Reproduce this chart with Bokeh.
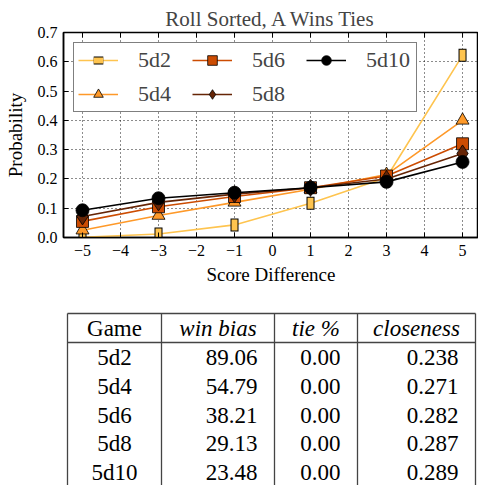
import math
from bokeh.plotting import figure
from bokeh.models import (Range1d, FixedTicker, Legend, LegendItem,
                          ColumnDataSource, PrintfTickFormatter)
from bokeh.layouts import column
from bokeh.core.properties import value
from bokeh.embed import file_html
from bokeh.resources import INLINE

# ---------------- data ----------------
score_diff = [-5, -3, -1, 1, 3, 5]
p_5d2 = [0.001, 0.012, 0.043, 0.117, 0.205, 0.622]
p_5d4 = [0.025, 0.075, 0.120, 0.165, 0.215, 0.400]
p_5d6 = [0.055, 0.105, 0.140, 0.170, 0.210, 0.320]
p_5d8 = [0.072, 0.120, 0.148, 0.170, 0.200, 0.287]
p_5d10 = [0.093, 0.134, 0.153, 0.170, 0.190, 0.258]

x_ticks = [-5, -4, -3, -2, -1, 0, 1, 2, 3, 4, 5]
y_ticks = [0.0, 0.1, 0.2, 0.3, 0.4, 0.5, 0.6, 0.7]

games = ["5d2", "5d4", "5d6", "5d8", "5d10"]
win_bias = ["89.06", "54.79", "38.21", "29.13", "23.48"]
tie_pct = ["0.00", "0.00", "0.00", "0.00", "0.00"]
closeness = ["0.238", "0.271", "0.282", "0.287", "0.289"]
headers = ["Game", "win bias", "tie %", "closeness"]

colors = ["#fec44f", "#fe9929", "#cc4c02", "#662506", "#000000"]
SERIF = "Liberation Serif"

# ---------------- chart ----------------
p = figure(width=478, height=300, x_range=Range1d(-5.5, 5.42),
           y_range=Range1d(0, 0.7), output_backend="svg",
           toolbar_location=None, min_border_left=63, min_border_right=0,
           min_border_top=32, min_border_bottom=63)
p.title.text = "Roll Sorted, A Wins Ties"
p.title.align = "center"
p.title.text_font = SERIF
p.title.text_font_size = "21px"
p.title.text_font_style = "normal"
p.title.standoff = 4
p.outline_line_color = "black"
p.outline_line_width = 1.5

p.xaxis.ticker = FixedTicker(ticks=x_ticks)
p.yaxis.ticker = FixedTicker(ticks=y_ticks)
p.xaxis.major_label_overrides = {t: (("\u2212%d" % -t) if t < 0 else str(t)) for t in x_ticks}
p.yaxis.formatter = PrintfTickFormatter(format="%.1f")
for ax in (p.xaxis, p.yaxis):
    ax.major_tick_in = 5
    ax.major_tick_out = 0
    ax.minor_tick_line_color = None
    ax.axis_line_width = 1.5
    ax.axis_line_color = "black"
    ax.major_tick_line_color = "black"
    ax.major_label_text_font = SERIF
    ax.major_label_text_font_size = "16px"
    ax.major_label_text_color = "black"
    ax.axis_label_text_font = SERIF
    ax.axis_label_text_font_size = "19px"
    ax.axis_label_text_font_style = "normal"
    ax.axis_label_text_color = "black"
p.xaxis.major_label_standoff = 7
p.yaxis.major_label_standoff = 6
p.xaxis.axis_label = "Score Difference"
p.yaxis.axis_label = "Probability"
p.xaxis.axis_label_standoff = 5
p.yaxis.axis_label_standoff = 9

p.grid.grid_line_color = "black"
p.grid.grid_line_dash = "1 3"
p.grid.grid_line_alpha = 0.9

# top inward ticks (half of a vertical dash, clipped by frame)
p.scatter(x=x_ticks, y=[0.7] * len(x_ticks), marker="dash", size=10,
          angle=math.pi / 2, line_color="black", line_width=1)

series = [p_5d2, p_5d4, p_5d6, p_5d8, p_5d10]
items = []
for name, vals, col in zip(games, series, colors):
    src = ColumnDataSource(dict(x=score_diff, y=vals))
    ln = p.line("x", "y", source=src, line_color=col, line_width=1.6)
    rs = [ln]
    if name == "5d2":
        rs.append(p.scatter("x", "y", source=src, marker="dash", size=13,
                            angle=math.pi / 2, line_color="black", line_width=8))
        rs.append(p.scatter("x", "y", source=src, marker="dash", size=11,
                            angle=math.pi / 2, line_color=col, line_width=6))
    elif name == "5d4":
        rs.append(p.scatter("x", "y", source=src, marker="triangle", size=13,
                            fill_color=col, line_color="black", line_width=0.8))
    elif name == "5d6":
        rs.append(p.scatter("x", "y", source=src, marker="square", size=12,
                            fill_color=col, line_color="black", line_width=0.8))
    elif name == "5d8":
        rs.append(p.scatter("x", "y", source=src, marker="diamond", size=17,
                            fill_color=col, line_color="black", line_width=0.8))
    else:
        rs.append(p.scatter("x", "y", source=src, marker="circle", size=13,
                            fill_color=col, line_color="black", line_width=0.8))
    items.append(LegendItem(label=name, renderers=rs))

legend = Legend(items=items, location="top_left", orientation="vertical",
                nrows=2, margin=10, padding=4, spacing=8,
                glyph_width=40, glyph_height=24, label_height=24,
                label_width=46, label_standoff=20,
                label_text_font=SERIF, label_text_font_size="22px",
                border_line_color="black", border_line_width=1.5,
                background_fill_color="white", background_fill_alpha=1.0)
p.add_layout(legend)

# ---------------- table ----------------
t = figure(width=478, height=185, x_range=Range1d(63, 478),
           y_range=Range1d(485, 300), output_backend="svg",
           toolbar_location=None, x_axis_type=None, y_axis_type=None,
           min_border_left=63, min_border_right=0, min_border_top=0,
           min_border_bottom=0, outline_line_color=None)
t.grid.visible = False

col_edges = [67, 161, 274, 357, 475]
top_y, head_y, bot_y = 313, 342, 485
row_y0, row_pitch = 357, 28.8
row_y = [row_y0 + i * row_pitch for i in range(len(games))]

t.segment(x0=[col_edges[0]] * 2, x1=[col_edges[-1]] * 2, y0=[top_y, head_y],
          y1=[top_y, head_y], line_color="#444444", line_width=1.3)
t.segment(x0=col_edges, x1=col_edges, y0=[top_y] * len(col_edges),
          y1=[bot_y] * len(col_edges), line_color="#444444", line_width=1.3)

FS = "23px"
hdr_x = [(col_edges[i] + col_edges[i + 1]) / 2 for i in range(4)]
head_mid = (top_y + head_y) / 2
t.text(x=hdr_x[:1], y=[head_mid], text=headers[:1], text_align="center",
       text_baseline="middle", text_font=value(SERIF), text_font_size=FS)
t.text(x=hdr_x[1:], y=[head_mid] * 3, text=headers[1:], text_align="center",
       text_baseline="middle", text_font=value(SERIF), text_font_size=FS,
       text_font_style="italic")

t.text(x=[hdr_x[0]] * 5, y=row_y, text=games, text_align="center",
       text_baseline="middle", text_font=value(SERIF), text_font_size=FS)
t.text(x=[257] * 5, y=row_y, text=win_bias, text_align="right",
       text_baseline="middle", text_font=value(SERIF), text_font_size=FS)
t.text(x=[340] * 5, y=row_y, text=tie_pct, text_align="right",
       text_baseline="middle", text_font=value(SERIF), text_font_size=FS)
t.text(x=[458] * 5, y=row_y, text=closeness, text_align="right",
       text_baseline="middle", text_font=value(SERIF), text_font_size=FS)

layout = column(p, t, spacing=0)
open("out.html", "w").write(file_html(layout, INLINE))
